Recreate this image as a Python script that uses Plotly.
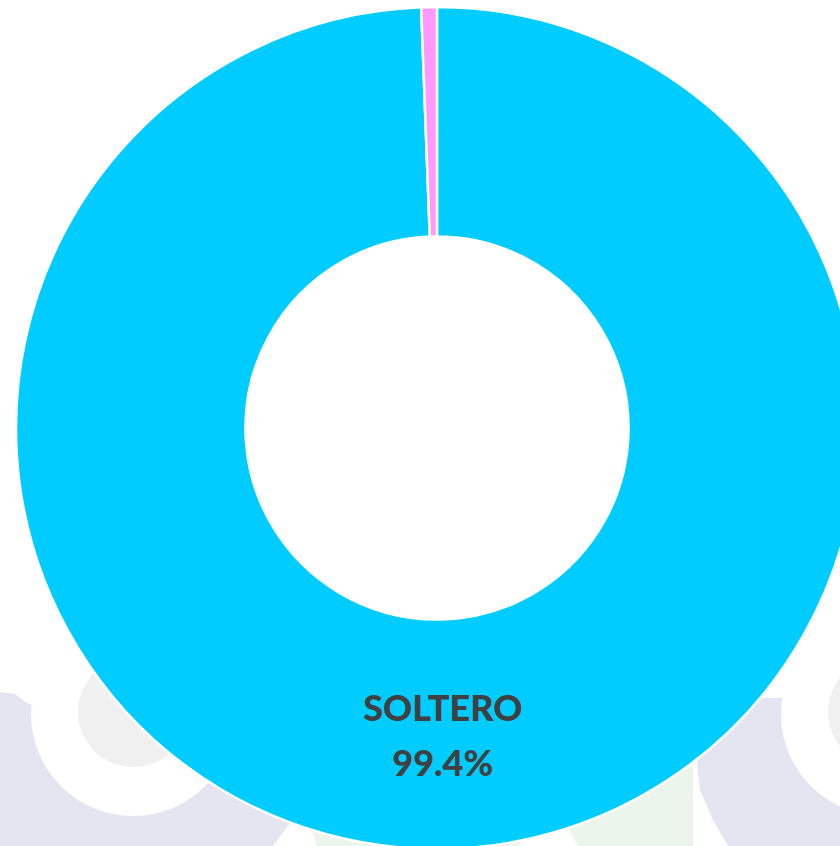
import plotly.graph_objects as go

# ---- data ----
labels = ["SOLTERO", "CASADO"]
values = [99.4, 0.6]
colors = ["#00CCFF", "#FF99FF"]
text_show = [
    "<span style='font-size:36px'>%{label}</span><br>"
    "<span style='font-size:36px'>%{percent:.1%}</span>",
    "",
]

# ---- figure geometry (pixels) ----
W, H = 874, 856
ML, MR, MT, MB = 16, 16, 7, 7
PW, PH = W - ML - MR, H - MT - MB


def px(x, y):
    return (x - ML) / PW, 1 - (y - MT) / PH


def circle(cx, cy, r, color):
    x0, y0 = px(cx - r, cy + r)
    x1, y1 = px(cx + r, cy - r)
    return dict(type="circle", xref="paper", yref="paper", x0=x0, y0=y0, x1=x1, y1=y1,
                fillcolor=color, line=dict(width=0), layer="below")


def poly(points, color):
    parts = []
    for i, (x, y) in enumerate(points):
        a, b = px(x, y)
        parts.append(("M" if i == 0 else "L") + f"{a:.5f},{b:.5f}")
    return dict(type="path", xref="paper", yref="paper", path=" ".join(parts) + " Z",
                fillcolor=color, line=dict(width=0), layer="below")


LAV = "#E4E5F0"
GREY = "#F0F0F0"
GREEN = "#ECF5EC"

shapes = [
    # left watermark
    poly([(0, 692), (15, 694), (28, 704), (240, 700), (300, 810), (273, 846), (0, 846)], LAV),
    circle(133, 714, 102, "white"),
    circle(133, 712, 55, GREY),
    # green pieces
    poly([(560, 767), (693, 767), (693, 846), (578, 846), (560, 812)], GREEN),
    poly([(313, 832), (520, 832), (520, 846), (317, 846)], GREEN),
    # right watermark
    poly([(760, 698), (874, 698), (874, 846), (728, 846), (713, 820), (700, 790), (697, 763),
          (708, 733), (730, 712)], LAV),
    circle(883, 714, 102, "white"),
    circle(883, 712, 55, GREY),
]

fig = go.Figure(go.Pie(
    labels=labels,
    values=values,
    sort=False,
    direction="clockwise",
    rotation=0,
    hole=0.455,
    marker=dict(colors=colors, line=dict(color="white", width=2.5)),
    texttemplate=text_show,
    textposition="inside",
    insidetextorientation="horizontal",
    textfont=dict(family="Lato", size=42, color="#404040", weight=900),
    showlegend=False,
))

fig.update_layout(
    width=W, height=H,
    margin=dict(l=ML, r=MR, t=MT, b=MB),
    paper_bgcolor="white",
    plot_bgcolor="white",
    shapes=shapes,
)

post = ("document.body.style.margin='0';document.body.style.overflow='hidden';"
        "var p=document.getElementById('{plot_id}').parentElement;"
        "p.style.width='840px';p.style.height='846px';p.style.overflow='hidden';")

fig.write_html("out.html", post_script=post, config=dict(displayModeBar=False))
